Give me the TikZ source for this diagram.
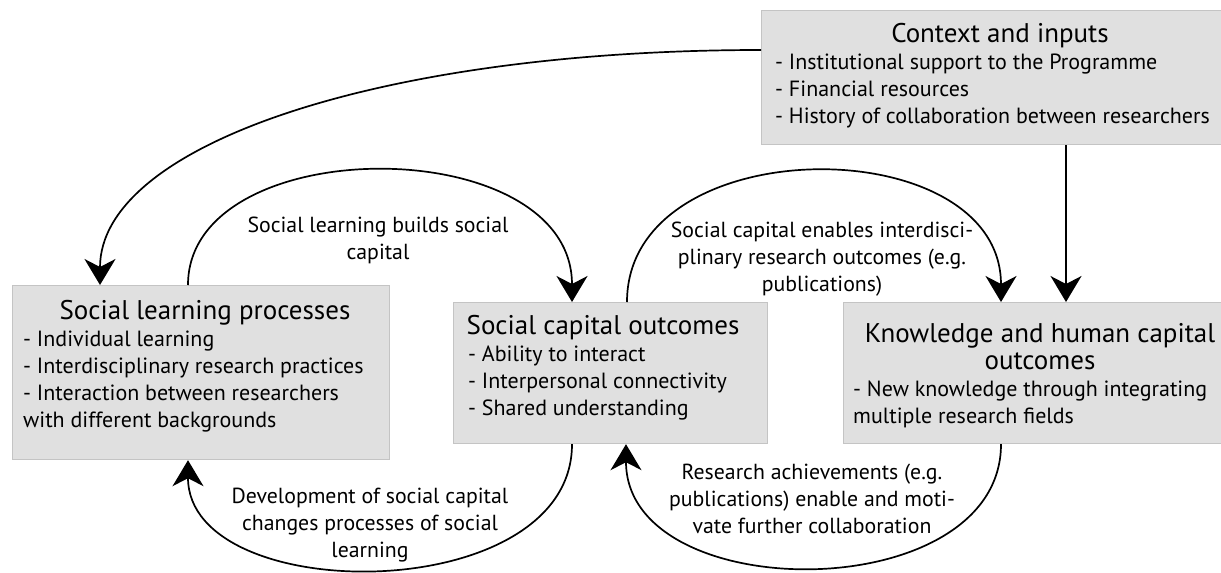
\documentclass[tikz,border=0pt]{standalone}
\usepackage{fontspec}
\setmainfont{PT Sans}
\usetikzlibrary{arrows.meta}

\definecolor{boxfill}{RGB}{224,224,224}
\definecolor{boxline}{RGB}{196,196,196}

\tikzset{
  box/.style={draw=boxline, fill=boxfill, line width=1.2pt, anchor=north west, inner sep=0pt},
  boxtitle/.style={font=\fontsize{27}{27}\selectfont, inner sep=0pt, anchor=base},
  boxitems/.style={font=\fontsize{22}{27}\selectfont, inner sep=0pt, align=left, anchor=north west},
  loopnote/.style={font=\fontsize{21.8}{27}\selectfont, inner sep=0pt, align=center},
  flow/.style={line width=1.7pt, -{Stealth[length=26pt,width=31pt,inset=8pt]}},
}

\begin{document}
\begin{tikzpicture}[x=1pt, y=-1pt]
    \useasboundingbox (0,0) rectangle (1221,573);

    % Boxes
    \node (ctx) [box, minimum width=460pt, minimum height=134pt] at (761,10) {};
    \node (slp) [box, minimum width=377pt, minimum height=174pt] at (12,285) {};
    \node (sco) [box, minimum width=314pt, minimum height=141pt] at (453,302) {};
    \node (kho) [box, minimum width=378pt, minimum height=141pt] at (843,302) {};

    % Box texts
    \node (ctxtitle) [boxtitle] at (1000,42) {Context and inputs};
    \node (ctxitems) [boxitems] at (775,54) {- Institutional support to the Programme\\- Financial resources\\- History of collaboration between researchers};
    \node (slptitle) [boxtitle] at (205,319) {Social learning processes};
    \node (slpitems) [boxitems] at (23,331) {- Individual learning\\- Interdisciplinary research practices\\- Interaction between researchers\\with different backgrounds};
    \node (scotitle) [boxtitle] at (603,334) {Social capital outcomes};
    \node (scoitems) [boxitems] at (468,346) {- Ability to interact\\- Interpersonal connectivity\\- Shared understanding};
    \node (khotitle) [boxtitle, align=center, anchor=north] at (1040,323) {Knowledge and human capital\\outcomes};
    \node (khoitems) [boxitems] at (853,381) {- New knowledge through integrating\\multiple research fields};

    % Loop labels
    \node (lbuild) [loopnote] at (378,240) {Social learning builds social\\capital};
    \node (lenable) [loopnote] at (822,259) {Social capital enables interdisci-\\plinary research outcomes (e.g.\\publications)};
    \node (ldev) [loopnote] at (370,525) {Development of social capital\\changes processes of social\\learning};
    \node (lach) [loopnote] at (812,499) {Research achievements (e.g.\\publications) enable and moti-\\vate further collaboration};

    % Edges
    \draw[flow] (ctx.west |- 0,50) .. controls (380,50) and (100,145) .. (slp.north -| 100,0);
    \draw[flow] (ctx.south -| 1066,0) -- (kho.north -| 1066,0);
    \draw[flow] (slp.north -| 188,0) .. controls (188,130) and (572,130) .. (sco.north -| 572,0);
    \draw[flow] (sco.north -| 627,0) .. controls (627,128) and (1001,128) .. (kho.north -| 1001,0);
    \draw[flow] (sco.south -| 572,0) .. controls (572,608) and (188,608) .. (slp.south -| 188,0);
    \draw[flow] (kho.south -| 1001,0) .. controls (1001,608) and (626,608) .. (sco.south -| 626,0);
\end{tikzpicture}
\end{document}
